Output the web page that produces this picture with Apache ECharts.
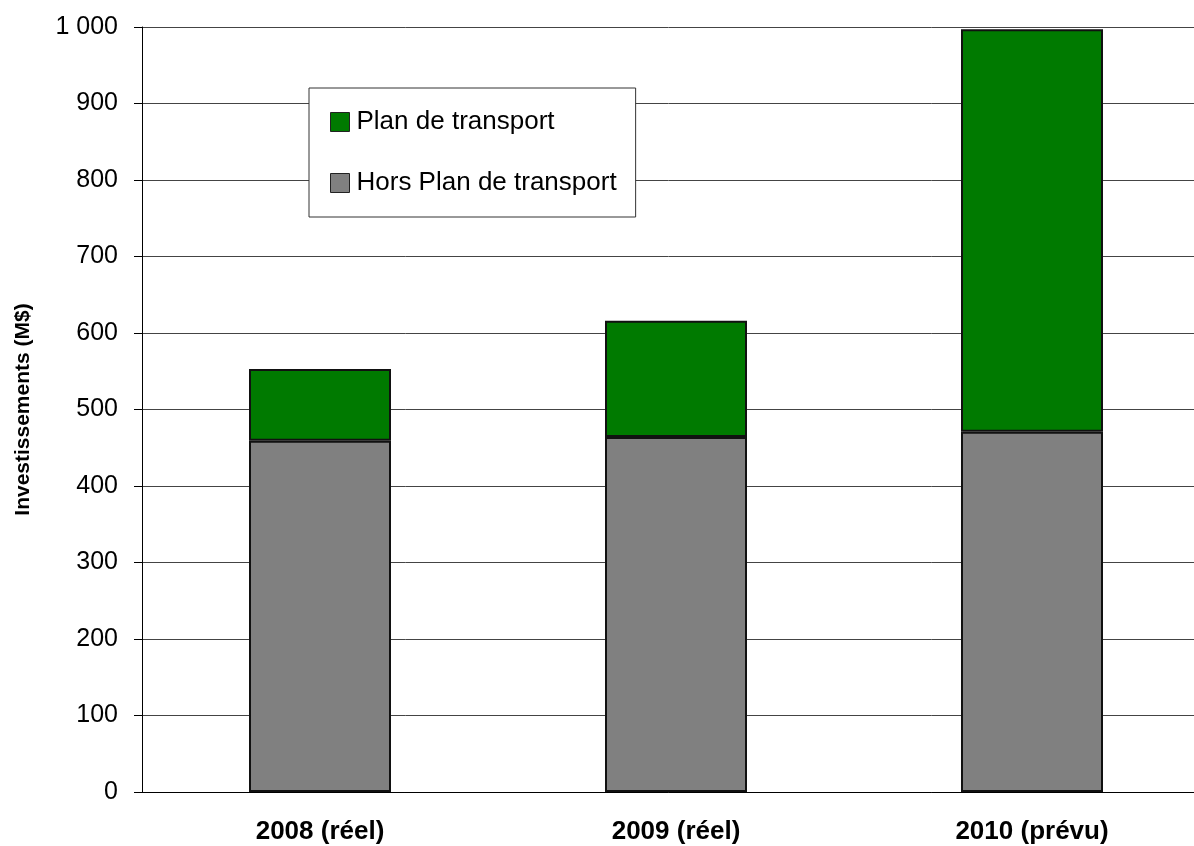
<!DOCTYPE html>
<html lang="fr" style="height: 100%">
<head>
  <meta charset="utf-8">
</head>
<body style="height: 100%; margin: 0; background: #fff">
  <div id="container" style="width: 1194px; height: 846px"></div>

  <script type="text/javascript" src="https://cdn.jsdelivr.net/npm/echarts@6/dist/echarts.min.js"></script>
  <script type="text/javascript">
    // categories and values (M$)
    var years = ['2008 (réel)', '2009 (réel)', '2010 (prévu)'];
    var horsPlan = [459, 464, 471];
    var planTransport = [94, 152, 526];
    var seriesNames = ['Plan de transport', 'Hors Plan de transport'];

    var dom = document.getElementById('container');
    var myChart = echarts.init(dom, null, { renderer: 'canvas' });
    var font = 'Liberation Sans, Arial, sans-serif';

    var option = {
      animation: false,
      textStyle: { fontFamily: font },
      grid: {
        left: 142,
        right: -16,
        top: 27,
        bottom: 54,
        containLabel: false,
        outerBoundsMode: 'none'
      },
      legend: {
        orient: 'vertical',
        left: 309,
        top: 88,
        data: seriesNames,
        backgroundColor: '#fff',
        borderColor: '#333',
        borderWidth: 1,
        padding: [21, 19, 21, 21],
        itemGap: 35,
        itemWidth: 19,
        itemHeight: 19,
        icon: 'rect',
        itemStyle: { borderColor: '#222', borderWidth: 1 },
        textStyle: { fontSize: 26, color: '#000', fontFamily: font, padding: [0, 0, 0, 2] }
      },
      xAxis: {
        type: 'category',
        data: years,
        axisLine: { lineStyle: { color: '#000', width: 1 } },
        axisTick: { length: 7, lineStyle: { color: '#000' } },
        axisLabel: {
          fontSize: 26,
          fontWeight: 'bold',
          color: '#000',
          margin: 27
        }
      },
      yAxis: {
        type: 'value',
        min: 0,
        max: 1000,
        interval: 100,
        name: 'Investissements (M$)',
        nameLocation: 'middle',
        nameRotate: 90,
        nameGap: 108,
        nameTextStyle: { fontSize: 21, fontWeight: 'bold', color: '#000' },
        axisLine: { show: true, lineStyle: { color: '#000', width: 1 } },
        axisTick: { show: true, length: 8, lineStyle: { color: '#000' } },
        axisLabel: {
          fontSize: 25,
          color: '#000',
          margin: 24,
          formatter: function (v) {
            return String(v).replace(/\B(?=(\d{3})+(?!\d))/g, ' ');
          }
        },
        splitLine: { lineStyle: { color: '#444', width: 1 } }
      },
      series: [
        {
          name: 'Hors Plan de transport',
          type: 'bar',
          stack: 'total',
          data: horsPlan,
          barWidth: 142,
          itemStyle: { color: '#808080', borderColor: '#111', borderWidth: 2 }
        },
        {
          name: 'Plan de transport',
          type: 'bar',
          stack: 'total',
          data: planTransport,
          barWidth: 142,
          itemStyle: { color: '#007a00', borderColor: '#111', borderWidth: 2 }
        }
      ]
    };

    myChart.setOption(option);
    window.addEventListener('resize', myChart.resize);
  </script>
</body>
</html>
